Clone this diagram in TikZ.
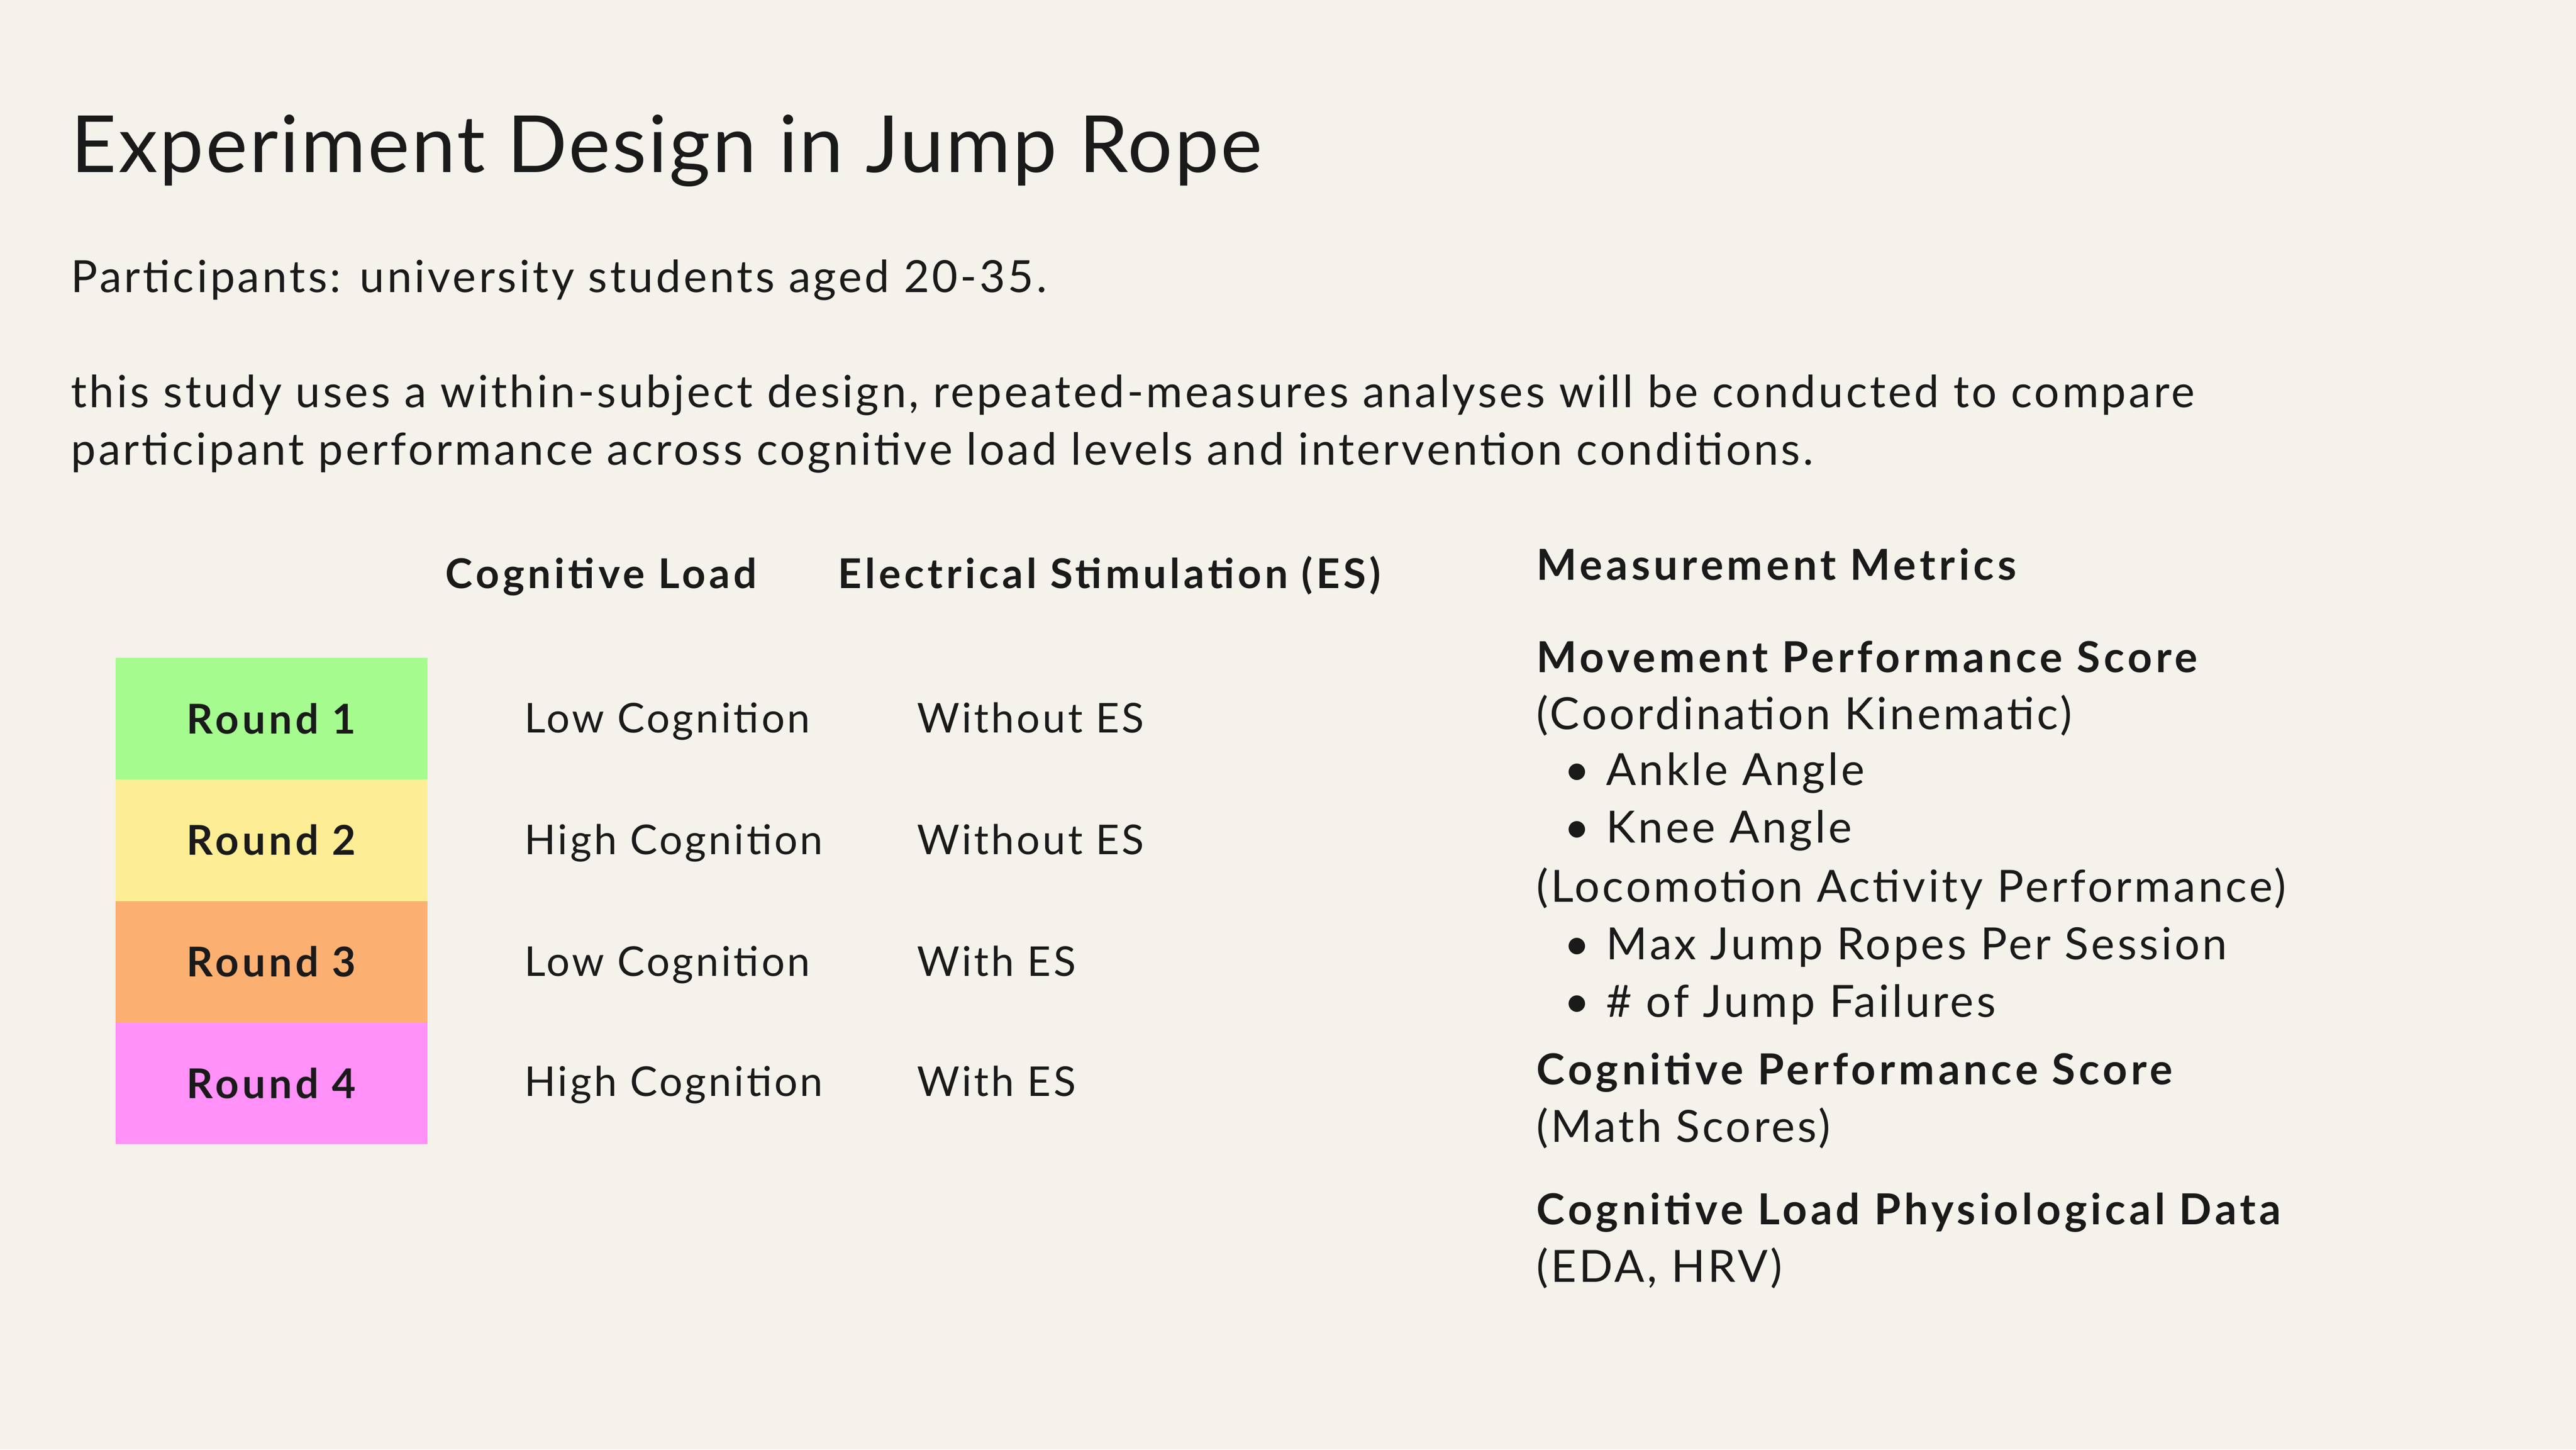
\documentclass[tikz,border=0pt]{standalone}
\usepackage{fontspec}
\setmainfont{Lato}
\definecolor{bg}{HTML}{F5F1EB}
\definecolor{rg}{HTML}{A6FB8F}
\definecolor{ry}{HTML}{FDEE95}
\definecolor{ro}{HTML}{FBB072}
\definecolor{rp}{HTML}{FF91F8}
\definecolor{tx}{HTML}{1A1A1A}
\newcommand{\rg}{\addfontfeature{LetterSpace=6}}
\newcommand{\bd}{\bfseries\addfontfeature{LetterSpace=8.5}}
\begin{document}
\begin{tikzpicture}[x=1pt,y=-1pt,
  t/.style={anchor=base west,inner sep=0pt,text=tx,font=\fontsize{27}{32}\selectfont\rg},
  tb/.style={t,font=\fontsize{26}{32}\selectfont\bd},
  rbox/.style={minimum width=190pt,minimum height=74pt,inner sep=0pt,anchor=north west,font=\fontsize{25}{30}\selectfont\bd,text=tx},
  cell/.style={anchor=base west,inner sep=0pt,text=tx,font=\fontsize{25}{30}\selectfont\rg}]
\fill[bg] (0,0) rectangle (1568,882);
\useasboundingbox (0,0) rectangle (1568,882);
\node[t,font=\fontsize{48}{56}\selectfont\addfontfeature{LetterSpace=2.5}] (title) at (43,105) {Experiment Design in Jump Rope};
\node[t] (p1) at (43,178) {Participants: university students aged 20-35.};
\node[t] (p2) at (43,248) {this study uses a within-subject design, repeated-measures analyses will be conducted to compare};
\node[t] (p3) at (43,283) {participant performance across cognitive load levels and intervention conditions.};
\node[tb,font=\fontsize{25}{30}\selectfont\bd] (h1) at (271,358) {Cognitive Load};
\node[tb,font=\fontsize{25}{30}\selectfont\bd] (h2) at (510,358) {Electrical Stimulation (ES)};
\node[rbox,fill=rg] (r1) at (70,400) {Round 1};
\node[rbox,fill=ry] (r2) at (70,474) {Round 2};
\node[rbox,fill=ro] (r3) at (70,548) {Round 3};
\node[rbox,fill=rp] (r4) at (70,622) {Round 4};
\node[cell] (c11) at (319,446) {Low Cognition};
\node[cell] (c12) at (558,446) {Without ES};
\node[cell] (c21) at (319,520) {High Cognition};
\node[cell] (c22) at (558,520) {Without ES};
\node[cell] (c31) at (319,594) {Low Cognition};
\node[cell] (c32) at (558,594) {With ES};
\node[cell] (c41) at (319,667) {High Cognition};
\node[cell] (c42) at (558,667) {With ES};
\node[tb] (m0) at (935,353) {Measurement Metrics};
\node[tb] (m1) at (935,409) {Movement Performance Score};
\node[t] (m2) at (935,444) {(Coordination Kinematic)};
\node[t] (b1) at (952,478) {•\hspace{10pt}Ankle Angle};
\node[t] (b2) at (952,513) {•\hspace{10pt}Knee Angle};
\node[t] (m3) at (935,549) {(Locomotion Activity Performance)};
\node[t] (b3) at (952,584) {•\hspace{10pt}Max Jump Ropes Per Session};
\node[t] (b4) at (952,619) {•\hspace{10pt}\# of Jump Failures};
\node[tb] (m4) at (935,660) {Cognitive Performance Score};
\node[t] (m5) at (935,695) {(Math Scores)};
\node[tb] (m6) at (935,745) {Cognitive Load Physiological Data};
\node[t] (m7) at (935,780) {(EDA, HRV)};
\end{tikzpicture}
\end{document}
